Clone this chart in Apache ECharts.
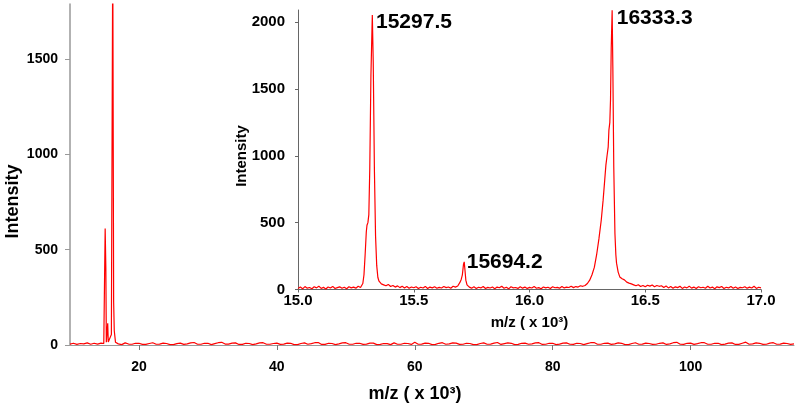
<!DOCTYPE html>
<html>
<head>
<meta charset="utf-8">
<script src="https://cdn.jsdelivr.net/npm/echarts@6/dist/echarts.min.js"></script>
<style>html,body{margin:0;padding:0;background:#fff}#c{width:800px;height:411px}</style>
</head>
<body>
<div id="c"></div>
<script>
// ---- Data (m/z in thousands, intensity) ----
const mainXTicks = [20, 40, 60, 80, 100];
const mainYTicks = [0, 500, 1000, 1500];
const insetXTicks = [15.0, 15.5, 16.0, 16.5, 17.0];
const insetYTicks = [0, 500, 1000, 1500, 2000];
const peakLabels = ['15297.5', '15694.2', '16333.3'];

const mainSpectrum = [
  [10,5],[10.5,9],[11,3],[11.5,8],[12,6],[12.5,11],[13,4],[13.5,9],[14,5],[14.5,10],[14.9,8],
  [15.0,12],[15.1,612],[15.2,400],[15.27,15],[15.4,18],[15.47,114],[15.55,16],[15.8,12],
  [16.0,55],[16.2,2080],[16.33,224],[16.42,75],[16.6,14],[16.8,9],
  [17,6],[17.5,2],[18,11],[18.5,5],[19,4],[19.5,9],[20,9],[20.5,3],[21,3],[21.5,8],[22,12],[22.5,4],
  [23,5],[23.5,10],[24,8],[24.5,2],[25,2],[25.5,7],[26,10],[26.5,3],[27,6],[27.5,11],[28,13],[28.5,4],
  [29,4],[29.5,9],[30,9],[30.5,2],[31,7],[31.5,12],[32,14],[32.5,5],[33,5],[33.5,10],[34,11],[34.5,3],
  [35,3],[35.5,9],[36,8],[36.5,2],[37,6],[37.5,11],[38,12],[38.5,4],[39,4],[39.5,8],[40,10],[40.5,3],
  [41,5],[41.5,10],[42,9],[42.5,2],[43,2],[43.5,8],[44,11],[44.5,4],[45,7],[45.5,12],[46,13],[46.5,3],
  [47,3],[47.5,9],[48,8],[48.5,2],[49,6],[49.5,11],[50,12],[50.5,4],[51,4],[51.5,9],[52,9],[52.5,3],
  [53,5],[53.5,10],[54,10],[54.5,2],[55,3],[55.5,8],[56,7],[56.5,2],[57,11],[57.5,4],[58,4],[58.5,9],
  [59,8],[59.5,3],[60,14],[60.5,4],[61,5],[61.5,10],[62,9],[62.5,2],[63,3],[63.5,9],[64,12],[64.5,4],
  [65,6],[65.5,11],[66,10],[66.5,3],[67,4],[67.5,9],[68,8],[68.5,2],[69,2],[69.5,8],[70,11],[70.5,4],
  [71,5],[71.5,10],[72,13],[72.5,3],[73,7],[73.5,11],[74,9],[74.5,2],[75,3],[75.5,9],[76,10],[76.5,4],
  [77,6],[77.5,11],[78,12],[78.5,3],[79,4],[79.5,9],[80,9],[80.5,2],[81,5],[81.5,10],[82,11],[82.5,4],
  [83,3],[83.5,9],[84,8],[84.5,2],[85,7],[85.5,12],[86,13],[86.5,4],[87,4],[87.5,9],[88,10],[88.5,3],
  [89,6],[89.5,11],[90,9],[90.5,2],[91,2],[91.5,8],[92,12],[92.5,4],[93,5],[93.5,10],[94,8],[94.5,3],
  [95,4],[95.5,9],[96,11],[96.5,3],[97,6],[97.5,12],[98,14],[98.5,4],[99,3],[99.5,9],[100,10],[100.5,3],
  [101,7],[101.5,12],[102,12],[102.5,4],[103,4],[103.5,9],[104,9],[104.5,2],[105,5],[105.5,10],[106,11],
  [106.5,3],[107,3],[107.5,9],[108,15],[108.5,4],[109,6],[109.5,11],[110,9],[110.5,3],[111,4],[111.5,10],
  [112,12],[112.5,4],[113,5],[113.5,10],[114,8],[114.5,3],[115,6]
];

const insetSpectrum = [
  [15.00,8],[15.01,18],[15.02,5],[15.03,22],[15.04,10],[15.05,15],[15.06,6],[15.07,20],[15.08,12],
  [15.09,25],[15.10,8],[15.11,16],[15.12,4],[15.13,19],[15.14,11],[15.15,23],[15.16,7],[15.17,14],
  [15.18,20],[15.19,9],[15.20,17],[15.21,6],[15.22,21],[15.23,12],[15.24,18],[15.25,10],[15.26,24],
  [15.27,15],[15.275,30],[15.28,45],[15.285,110],[15.29,260],[15.295,430],[15.298,480],[15.302,500],
  [15.306,560],[15.31,900],[15.315,1600],[15.321,2053],[15.325,1700],[15.33,900],[15.335,400],
  [15.34,180],[15.345,90],[15.35,62],[15.355,48],
  [15.36,42],[15.37,35],[15.38,28],[15.39,38],[15.40,22],[15.41,30],[15.42,18],[15.43,27],[15.44,14],
  [15.45,24],[15.46,12],[15.47,22],[15.48,9],[15.49,19],[15.50,13],[15.51,21],[15.52,8],[15.53,17],
  [15.54,11],[15.55,23],[15.56,7],[15.57,18],[15.58,12],[15.59,20],[15.60,9],[15.61,16],[15.62,11],
  [15.63,22],[15.64,14],[15.65,19],[15.66,10],[15.67,24],[15.68,18],[15.69,26],
  [15.695,35],[15.70,55],[15.705,75],[15.71,110],[15.715,190],[15.718,207],[15.721,150],[15.725,70],
  [15.73,35],[15.735,25],
  [15.74,18],[15.75,10],[15.76,20],[15.77,8],[15.78,17],[15.79,12],[15.80,22],[15.81,7],[15.82,16],
  [15.83,11],[15.84,19],[15.85,6],[15.86,18],[15.87,13],[15.88,24],[15.89,9],[15.90,17],[15.91,5],
  [15.92,20],[15.93,12],[15.94,15],[15.95,8],[15.96,21],[15.97,10],[15.98,18],[15.99,7],[16.00,16],
  [16.01,11],[16.02,22],[16.03,9],[16.04,14],[16.05,6],[16.06,19],[16.07,12],[16.08,17],[16.09,8],
  [16.10,21],[16.11,13],[16.12,16],[16.13,10],[16.14,23],[16.15,12],[16.16,18],[16.17,15],[16.18,25],
  [16.19,14],[16.20,22],[16.21,18],[16.22,28],[16.23,24],[16.24,30],
  [16.25,45],[16.26,70],[16.27,110],[16.28,165],[16.29,260],[16.30,380],[16.31,520],[16.318,668],
  [16.325,820],[16.33,930],[16.335,1000],[16.34,1067],[16.343,1192],[16.347,1250],[16.35,1420],
  [16.353,1800],[16.357,2088],[16.36,1666],[16.364,918],[16.369,420],[16.373,260],[16.376,197],
  [16.383,130],[16.39,94],[16.40,80],[16.405,70],[16.41,72],[16.42,55],[16.43,48],[16.44,42],[16.45,35],
  [16.46,28],[16.47,36],[16.48,22],[16.49,30],[16.50,20],[16.51,32],[16.52,25],[16.53,34],[16.54,21],
  [16.55,30],[16.56,24],[16.57,28],[16.58,15],[16.59,26],[16.60,12],[16.61,22],[16.62,9],[16.63,20],
  [16.64,14],[16.65,24],[16.66,8],[16.67,19],[16.68,12],[16.69,25],[16.70,10],[16.71,18],[16.72,7],
  [16.73,21],[16.74,13],[16.75,17],[16.76,9],[16.77,24],[16.78,11],[16.79,18],[16.80,6],[16.81,20],
  [16.82,14],[16.83,22],[16.84,8],[16.85,17],[16.86,12],[16.87,23],[16.88,10],[16.89,19],[16.90,7],
  [16.91,16],[16.92,13],[16.93,21],[16.94,9],[16.95,18],[16.96,11],[16.97,24],[16.98,8],[16.99,17],
  [17.00,12]
];

// ---- Chart ----
const FONT = '"Liberation Sans", Arial, Helvetica, sans-serif';
const chart = echarts.init(document.getElementById('c'), null, {renderer: 'canvas', width: 800, height: 411});

function textEl(text, x, y, size, opts) {
  return Object.assign({
    type: 'text', x: x, y: y, z: 100,
    style: {text: text, font: 'bold ' + size + 'px ' + FONT, fill: '#000', align: 'center', verticalAlign: 'middle'}
  }, opts || {});
}
const plain = v => String(Math.round(v));

const option = {
  animation: false,
  backgroundColor: '#fff',
  textStyle: {fontFamily: FONT},
  grid: [
    {left: 70, right: 6, top: 4, height: 341},
    {left: 298, right: 39, top: 10, height: 279.5}
  ],
  xAxis: [
    {
      gridIndex: 0, type: 'value', min: 10, max: 115,
      axisLine: {onZero: false, lineStyle: {color: '#999', width: 1}},
      axisTick: {customValues: mainXTicks, length: 5, lineStyle: {color: '#777'}},
      axisLabel: {customValues: mainXTicks, margin: 15, fontSize: 14, fontWeight: 'bold', color: '#000', fontFamily: FONT, formatter: plain},
      splitLine: {show: false}
    },
    {
      gridIndex: 1, type: 'value', min: 15, max: 17, interval: 0.5,
      axisLine: {onZero: false, lineStyle: {color: '#666', width: 1}},
      axisTick: {customValues: insetXTicks, length: 3, lineStyle: {color: '#666'}},
      axisLabel: {customValues: insetXTicks, margin: 4, fontSize: 15, fontWeight: 'bold', color: '#000', fontFamily: FONT,
        formatter: v => Number(v).toFixed(1)},
      splitLine: {show: false}
    }
  ],
  yAxis: [
    {
      gridIndex: 0, type: 'value', min: 0, max: 1790,
      axisLine: {show: true, onZero: false, lineStyle: {color: '#999', width: 1.5}},
      axisTick: {show: true, customValues: mainYTicks, length: 5, lineStyle: {color: '#999'}},
      axisLabel: {customValues: mainYTicks, margin: 12, fontSize: 14, fontWeight: 'bold', color: '#000', fontFamily: FONT, formatter: plain},
      splitLine: {show: false}
    },
    {
      gridIndex: 1, type: 'value', min: 0, max: 2090,
      axisLine: {show: true, onZero: false, lineStyle: {color: '#666', width: 1}},
      axisTick: {show: true, customValues: insetYTicks, length: 3, lineStyle: {color: '#666'}},
      axisLabel: {customValues: insetYTicks, margin: 13, fontSize: 15, fontWeight: 'bold', color: '#000', fontFamily: FONT, formatter: plain},
      splitLine: {show: false}
    }
  ],
  series: [
    {
      type: 'line', xAxisIndex: 0, yAxisIndex: 0, data: mainSpectrum,
      showSymbol: false, symbol: 'none', clip: true, smooth: false,
      lineStyle: {color: '#ff0000', width: 1.2}
    },
    {
      type: 'line', xAxisIndex: 1, yAxisIndex: 1, data: insetSpectrum,
      showSymbol: false, symbol: 'none', clip: true, smooth: false,
      lineStyle: {color: '#ff0000', width: 1.2}
    }
  ],
  graphic: [
    textEl('Intensity', 13.5, 201.5, 18, {rotation: Math.PI / 2}),
    textEl('m/z ( x 10³)', 415, 394, 18),
    textEl('Intensity', 241.7, 156, 15, {rotation: Math.PI / 2}),
    textEl('m/z ( x 10³)', 529.5, 322.5, 15),
    {type: 'text', x: 376, y: 22, z: 100, style: {text: peakLabels[0], font: 'bold 21px ' + FONT, fill: '#000', align: 'left', verticalAlign: 'middle'}},
    {type: 'text', x: 466.7, y: 262.5, z: 100, style: {text: peakLabels[1], font: 'bold 21px ' + FONT, fill: '#000', align: 'left', verticalAlign: 'middle'}},
    {type: 'text', x: 616.7, y: 18, z: 100, style: {text: peakLabels[2], font: 'bold 21px ' + FONT, fill: '#000', align: 'left', verticalAlign: 'middle'}}
  ]
};
chart.setOption(option);
</script>
</body>
</html>
